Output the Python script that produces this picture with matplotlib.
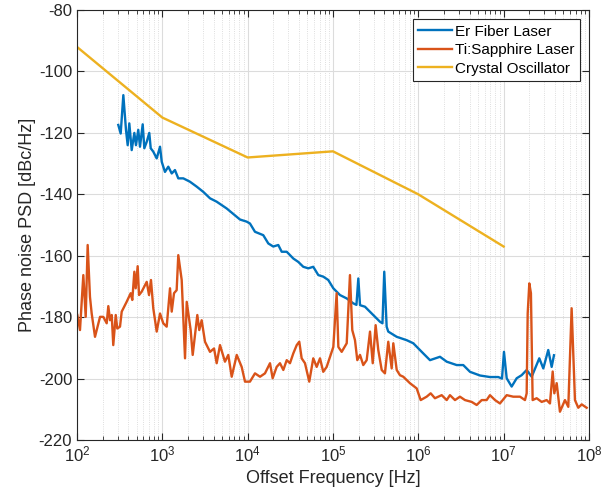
import numpy as np
import matplotlib
matplotlib.use("Agg")
import matplotlib.pyplot as plt
from matplotlib.ticker import LogLocator, FixedLocator, LogFormatterSciNotation

plt.rcParams["font.family"] = ["Liberation Sans", "DejaVu Sans"]
plt.rcParams["mathtext.fontset"] = "custom"
plt.rcParams["mathtext.rm"] = "Liberation Sans"
plt.rcParams["axes.unicode_minus"] = False

# --- data (log10 of frequency in Hz, PSD in dBc/Hz) ---
osc_f = [1e2, 1e3, 1e4, 1e5, 1e6, 1e7]
osc_psd = [-92, -115, -128, -126, -140, -157]

er_logf = [
    2.484, 2.512, 2.543, 2.574, 2.594, 2.613, 2.641, 2.672, 2.691, 2.718,
    2.738, 2.770, 2.789, 2.817, 2.847, 2.864, 2.894, 2.934, 2.973, 2.993,
    3.031, 3.070, 3.110, 3.148, 3.187, 3.246, 3.324, 3.403, 3.480, 3.559,
    3.637, 3.754, 3.910, 3.989, 4.027, 4.086, 4.183, 4.242, 4.300, 4.359,
    4.399, 4.458, 4.535, 4.593, 4.652, 4.711, 4.769, 4.828, 4.886, 4.945,
    5.004, 5.082, 5.161, 5.238, 5.275, 5.297, 5.317, 5.375, 5.414, 5.472,
    5.551, 5.580, 5.601, 5.629, 5.648, 5.747, 5.864, 5.941, 6.058, 6.137,
    6.254, 6.333, 6.450, 6.527, 6.606, 6.723, 6.840, 6.937, 6.981, 7.004,
    7.036, 7.094, 7.153, 7.211, 7.270, 7.329, 7.418, 7.465, 7.523, 7.563,
    7.590,
]
er_psd = [
    -117.4, -120.2, -107.7, -119.0, -124.0, -116.9, -125.6, -120.0, -124.0,
    -119.0, -124.5, -117.2, -125.0, -122.9, -120.0, -125.0, -126.1, -128.3,
    -124.5, -129.4, -132.7, -131.0, -133.2, -132.1, -134.8, -134.8, -135.9,
    -137.5, -139.2, -141.3, -142.4, -144.6, -148.2, -148.9, -149.5, -152.2,
    -153.3, -156.0, -157.0, -156.5, -158.7, -158.7, -160.9, -162.0, -163.6,
    -164.1, -163.6, -166.3, -166.8, -167.9, -170.6, -172.8, -173.9, -175.5,
    -176.0, -167.4, -176.1, -176.6, -177.7, -179.3, -181.5, -182.0, -165.2,
    -183.1, -184.7, -186.4, -187.5, -188.5, -191.8, -194.0, -192.9, -194.5,
    -195.6, -195.6, -197.8, -199.0, -199.5, -199.5, -200.0, -191.3, -199.9,
    -202.6, -199.9, -198.9, -197.2, -199.4, -193.4, -196.7, -190.7, -196.2,
    -192.4,
]

ti_logf = [
    2.004, 2.035, 2.074, 2.102, 2.125, 2.152, 2.172, 2.211, 2.270, 2.308,
    2.348, 2.367, 2.387, 2.407, 2.425, 2.454, 2.472, 2.504, 2.524, 2.582,
    2.629, 2.648, 2.672, 2.688, 2.711, 2.727, 2.758, 2.817, 2.844, 2.867,
    2.894, 2.934, 2.973, 3.011, 3.051, 3.090, 3.110, 3.137, 3.168, 3.187,
    3.227, 3.266, 3.286, 3.332, 3.356, 3.410, 3.433, 3.461, 3.500, 3.559,
    3.606, 3.637, 3.676, 3.734, 3.773, 3.813, 3.872, 3.930, 3.969, 4.027,
    4.086, 4.145, 4.203, 4.262, 4.293, 4.340, 4.379, 4.418, 4.458, 4.496,
    4.535, 4.575, 4.605, 4.633, 4.672, 4.722, 4.769, 4.809, 4.848, 4.886,
    4.926, 4.965, 5.004, 5.043, 5.063, 5.102, 5.161, 5.199, 5.226, 5.258,
    5.285, 5.317, 5.355, 5.395, 5.434, 5.466, 5.500, 5.531, 5.571, 5.609,
    5.648, 5.688, 5.707, 5.747, 5.785, 5.824, 5.902, 5.981, 6.028, 6.098,
    6.145, 6.195, 6.274, 6.333, 6.371, 6.430, 6.488, 6.547, 6.626, 6.684,
    6.743, 6.801, 6.840, 6.899, 6.957, 7.036, 7.113, 7.192, 7.250, 7.270,
    7.282, 7.301, 7.320, 7.340, 7.387, 7.446, 7.504, 7.543, 7.575, 7.594,
    7.622, 7.660, 7.719, 7.758, 7.797, 7.836, 7.875, 7.915, 7.973,
]
ti_psd = [
    -179.3, -184.2, -166.3, -179.9, -156.5, -173.4, -178.8, -186.4, -179.9,
    -179.9, -182.0, -176.4, -181.0, -179.3, -189.1, -179.3, -183.7, -183.1,
    -178.2, -175.0, -172.2, -174.4, -165.2, -170.6, -163.4, -172.8, -171.7,
    -168.5, -172.8, -167.9, -177.1, -184.7, -178.8, -182.0, -183.1, -170.6,
    -178.2, -172.2, -171.2, -159.8, -167.9, -193.4, -175.0, -184.2, -192.3,
    -179.3, -184.2, -181.0, -188.0, -191.3, -190.2, -195.0, -189.1, -194.5,
    -192.3, -199.4, -192.3, -196.2, -201.0, -201.0, -198.3, -199.4, -198.3,
    -195.0, -199.9, -196.2, -195.0, -197.2, -194.0, -195.0, -191.8, -189.1,
    -188.0, -193.4, -195.0, -201.0, -193.4, -196.2, -193.4, -197.8, -196.2,
    -192.9, -189.7, -172.2, -189.7, -191.3, -188.5, -166.3, -184.2, -187.5,
    -194.0, -192.3, -195.6, -194.0, -184.7, -195.0, -182.6, -190.7, -197.2,
    -198.3, -188.0, -196.7, -188.5, -197.2, -198.9, -199.4, -201.5, -203.2,
    -207.0, -205.9, -204.8, -206.4, -205.4, -207.0, -205.4, -207.0, -205.9,
    -207.0, -207.6, -208.6, -207.0, -207.0, -205.4, -207.0, -208.1, -205.4,
    -205.9, -205.9, -207.0, -204.8, -178.8, -169.0, -172.2, -207.0, -206.4,
    -207.6, -207.0, -208.1, -197.7, -204.8, -201.5, -210.8, -207.0, -209.2,
    -177.1, -207.0, -209.5, -208.4, -209.5,
]

x_ticks = [1e2, 1e3, 1e4, 1e5, 1e6, 1e7, 1e8]
y_ticks = [-220, -200, -180, -160, -140, -120, -100, -80]

er_f = 10 ** np.array(er_logf)
ti_f = 10 ** np.array(ti_logf)

fig = plt.figure(figsize=(6.03, 5.04), dpi=100)
ax = fig.add_axes([0.1277, 0.127, 0.849, 0.853])

ax.semilogx(er_f, er_psd, color="#0072BD", lw=1.7, label="Er Fiber Laser")
ax.semilogx(ti_f, ti_psd, color="#D95319", lw=1.7, label="Ti:Sapphire Laser")
ax.semilogx(osc_f, osc_psd, color="#EDB120", lw=1.7, label="Crystal Oscillator")

ax.set_xlim(1e2, 1e8)
ax.set_ylim(-220, -80)
ax.yaxis.set_major_locator(FixedLocator(y_ticks))
ax.xaxis.set_major_locator(FixedLocator(x_ticks))
ax.xaxis.set_major_formatter(LogFormatterSciNotation())
ax.xaxis.set_minor_locator(LogLocator(base=10, subs=np.arange(2, 10), numticks=20))

ax.grid(True, which="major", color="#dcdcdc", lw=0.8)
ax.grid(True, which="minor", color="#d4d4d4", lw=0.6, ls=":")
ax.tick_params(which="both", direction="in", top=True, right=True,
               colors="#262626", labelsize=12)
ax.tick_params(which="major", length=5)
ax.tick_params(which="minor", length=3)
for sp in ax.spines.values():
    sp.set_color("#262626")
    sp.set_linewidth(0.8)

ax.set_xlabel("Offset Frequency [Hz]", fontsize=13, color="#262626")
ax.set_ylabel("Phase noise PSD [dBc/Hz]", fontsize=13, color="#262626", labelpad=2)

leg = ax.legend(loc="upper right", fontsize=11, fancybox=False,
                edgecolor="#262626", framealpha=1, handlelength=2.2,
                borderaxespad=0.6, labelspacing=0.3, handletextpad=0.2,
                borderpad=0.35)
leg.get_frame().set_linewidth(0.8)

fig.savefig("out.png", dpi=100)
